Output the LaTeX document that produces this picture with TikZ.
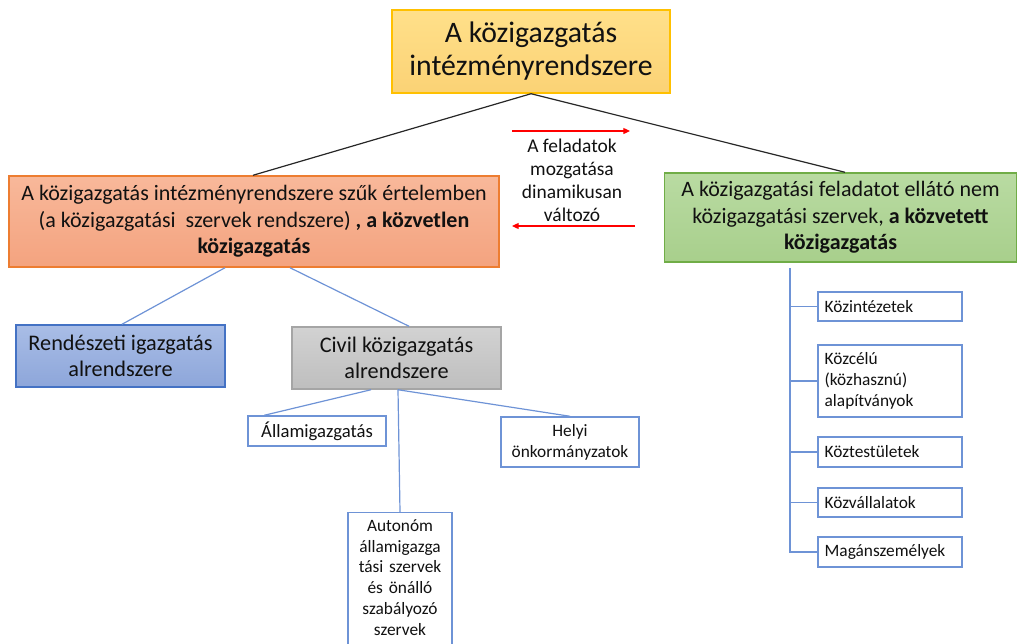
\documentclass[tikz,border=0pt]{standalone}
\usepackage{fontspec}
\setmainfont{Carlito}
\usetikzlibrary{calc,arrows.meta}
\definecolor{topfillA}{HTML}{FFE08A}
\definecolor{topfillB}{HTML}{FBD275}
\definecolor{topline}{HTML}{FFC000}
\definecolor{leftA}{HTML}{F8B89A}
\definecolor{leftB}{HTML}{F4A37F}
\definecolor{leftline}{HTML}{ED7D31}
\definecolor{rightA}{HTML}{B9DBA2}
\definecolor{rightB}{HTML}{A8CF8C}
\definecolor{rightline}{HTML}{70AD47}
\definecolor{blueA}{HTML}{A9BDE6}
\definecolor{blueB}{HTML}{8DA6DA}
\definecolor{blueline}{HTML}{4472C4}
\definecolor{grayA}{HTML}{D2D2D2}
\definecolor{grayB}{HTML}{BEBEBE}
\definecolor{grayline}{HTML}{A5A5A5}
\definecolor{conn}{HTML}{6E93D6}
\definecolor{txt}{HTML}{111111}
\tikzset{
  bigbox/.style={rectangle, align=center, inner sep=0pt, line width=1.1pt, text=txt},
  smallbox/.style={rectangle, draw=conn, line width=1.1pt, fill=white, inner sep=0pt, text=txt, font=\fontsize{13}{15.8}\selectfont},
  listbox/.style={smallbox, minimum width=108pt, text width=98pt, align=left},
  bline/.style={draw=conn, line width=0.9pt},
  kline/.style={draw=black!85, line width=0.9pt},
  rarrow/.style={draw=red, line width=0.9pt, -{Triangle[length=5pt,width=4.5pt]}}
}
\begin{document}
\begin{tikzpicture}[x=0.75pt,y=-0.75pt]
\useasboundingbox (0,0) rectangle (1017,643);
\begin{scope}
\clip (0,0) rectangle (1017,643);
% top
\node[bigbox, draw=topline, top color=topfillA, bottom color=topfillB,
  minimum width=208.5pt, minimum height=62.25pt, font=\fontsize{22.3}{24.8}\selectfont]
  (top) at (531,51.5) {A közigazgatás\\intézményrendszere};
% left
\node[bigbox, draw=leftline, top color=leftA, bottom color=leftB,
  minimum width=367.5pt, minimum height=68.25pt, font=\fontsize{16.5}{20}\selectfont]
  (left) at (254,221.5) {A közigazgatás intézményrendszere szűk értelemben\\(a közigazgatási\ \ szervek rendszere) \textbf{, a közvetlen}\\\textbf{közigazgatás}};
% right
\node[bigbox, draw=rightline, top color=rightA, bottom color=rightB,
  minimum width=264pt, minimum height=66.75pt, font=\fontsize{16.5}{20}\selectfont]
  (right) at (840.5,217.5) {A közigazgatási feladatot ellátó nem\\közigazgatási szervek, \textbf{a közvetett}\\\textbf{közigazgatás}};
% middle text
\node[align=center, inner sep=0pt, text=txt, font=\fontsize{14.6}{17.25}\selectfont]
  (mid) at (572,180.5) {A feladatok\\mozgatása\\dinamikusan\\változó};
\coordinate (ra1) at (512,131);
\coordinate (ra2) at (630,131);
\coordinate (la1) at (635,226);
\coordinate (la2) at (512,226);
\draw[rarrow] (ra1) -- (ra2);
\draw[rarrow] (la1) -- (la2);
% second level
\node[bigbox, draw=blueline, top color=blueA, bottom color=blueB,
  minimum width=156.75pt, minimum height=46.5pt, font=\fontsize{16.7}{20}\selectfont]
  (rend) at (120.5,356) {Rendészeti igazgatás\\alrendszere};
\node[bigbox, draw=grayline, top color=grayA, bottom color=grayB,
  minimum width=156.75pt, minimum height=46.5pt, font=\fontsize{16.7}{20}\selectfont]
  (civil) at (396.5,358) {Civil közigazgatás\\alrendszere};
% civil children
\node[smallbox, minimum width=103.5pt, minimum height=22.5pt, font=\fontsize{14}{16}\selectfont] (allam) at (317,431) {Államigazgatás};
\node[smallbox, minimum width=103.5pt, minimum height=37.5pt, align=center] (helyi) at (570,442) {Helyi\\önkormányzatok};
\node[smallbox, anchor=north, minimum width=78pt, text width=74pt, align=center, inner ysep=5pt, font=\fontsize{13}{15.6}\selectfont]
  (auto) at (400,512) {Autonóm\\államigazga\\tási szervek\\és önálló\\szabályozó\\szervek\\\mbox{}};
% right list
\node[listbox, minimum height=21.75pt] (l1) at (890,306.5) {Közintézetek};
\node[listbox, minimum height=54pt] (l2) at (890,381) {Közcélú\\(közhasznú)\\alapítványok};
\node[listbox, minimum height=22.5pt] (l3) at (890,452) {Köztestületek};
\node[listbox, minimum height=21.75pt] (l4) at (890,502.5) {Közvállalatok};
\node[listbox, minimum height=22.5pt] (l5) at (890,552) {Magánszemélyek};
% connectors
\draw[kline] (top.south) -- ($(left.north)+(-1,0)$);
\draw[kline] (top.south) -- ($(right.north)+(4.5,0)$);
\draw[bline] ($(left.south)+(-29,0)$) -- ($(rend.north)+(1.5,0)$);
\draw[bline] ($(left.south)+(36,0)$) -- ($(civil.north)+(12.5,0)$);
\draw[bline] ($(civil.south)+(-25.5,0)$) -- ($(allam.north west)+(17,0)$);
\draw[bline] ($(civil.south)+(1.5,0)$) -- (auto.north);
\draw[bline] ($(civil.south)+(1.5,0)$) -- (helyi.north);
\coordinate (vtop) at (790,268);
\draw[bline] (vtop) |- (l5.west);
\draw[bline] (vtop |- l1.west) -- (l1.west);
\draw[bline] (vtop |- l2.west) -- (l2.west);
\draw[bline] (vtop |- l3.west) -- (l3.west);
\draw[bline] (vtop |- l4.west) -- (l4.west);
\end{scope}
\end{tikzpicture}
\end{document}
